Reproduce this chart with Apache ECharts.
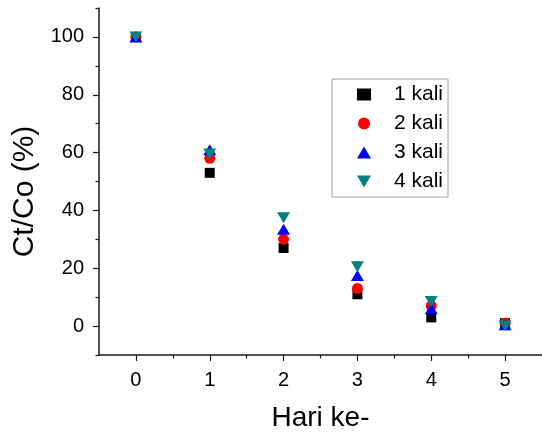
<!DOCTYPE html>
<html>
<head>
<meta charset="utf-8">
<script src="https://cdn.jsdelivr.net/npm/echarts@6/dist/echarts.min.js"></script>
<style>html,body{margin:0;padding:0;background:#fff}#c{width:542px;height:437px}</style>
</head>
<body>
<div id="c"></div>
<script>
const days = [0, 1, 2, 3, 4, 5];
const seriesNames = ['1 kali', '2 kali', '3 kali', '4 kali'];
const kali1 = [100, 53, 27, 11, 3, 1];
const kali2 = [100, 58, 30, 13, 7, 1];
const kali3 = [100, 61, 33.5, 17.5, 6, 0.5];
const kali4 = [100, 59.5, 37.5, 20.5, 8.5, 0];
const xTicks = [0, 1, 2, 3, 4, 5];
const xMinorTicks = [0.5, 1.5, 2.5, 3.5, 4.5];
const yTicks = [0, 20, 40, 60, 80, 100];
const yMinorTicks = [-10, 10, 30, 50, 70, 90, 110];

const font = '"Liberation Sans", Arial, sans-serif';
const axisColor = '#1a1a1a';
const downTri = 'path://M0,0L26,0L13,22Z';
function pairs(vals) { return days.map((d, i) => [d, vals[i]]); }

const chart = echarts.init(document.getElementById('c'), null, {renderer: 'canvas'});
chart.setOption({
  animation: false,
  backgroundColor: '#fff',
  grid: {left: 99, top: 8, right: -10, bottom: 69, containLabel: false},
  legend: {
    orient: 'vertical', left: 332, top: 79,
    data: [
      {name: seriesNames[0]},
      {name: seriesNames[1]},
      {name: seriesNames[2]},
      {name: seriesNames[3], icon: downTri}
    ],
    itemWidth: 14, itemHeight: 12, itemGap: 8,
    symbolKeepAspect: true,
    padding: [5, 5, 5, 25],
    borderColor: '#a0a0a0', borderWidth: 1, backgroundColor: '#fff',
    textStyle: {fontFamily: font, fontSize: 21, color: '#000', lineHeight: 20, padding: [0, 0, 0, 18]}
  },
  xAxis: [{
    type: 'value', min: -0.5, max: 5.5,
    name: 'Hari ke-', nameLocation: 'middle', nameGap: 49,
    nameTextStyle: {fontFamily: font, fontSize: 28, color: '#000'},
    axisLine: {onZero: false, lineStyle: {color: axisColor, width: 1.5}},
    axisTick: {show: true, inside: false, length: 6, customValues: xTicks, lineStyle: {color: axisColor, width: 1.2}},
    axisLabel: {customValues: xTicks, fontFamily: font, fontSize: 20, color: '#000', margin: 15},
    splitLine: {show: false}
  }, {
    type: 'value', min: -0.5, max: 5.5, position: 'bottom', gridIndex: 0,
    axisLine: {show: false, onZero: false},
    axisTick: {show: true, length: 3.5, customValues: xMinorTicks, lineStyle: {color: axisColor, width: 1.2}},
    axisLabel: {show: false}, splitLine: {show: false}
  }],
  yAxis: [{
    type: 'value', min: -10, max: 110,
    name: 'Ct/Co (%)', nameLocation: 'middle', nameGap: 53,
    nameTextStyle: {fontFamily: font, fontSize: 30, color: '#000', padding: [0, 20, 0, 0]},
    axisLine: {show: true, onZero: false, lineStyle: {color: axisColor, width: 1.5}},
    axisTick: {show: true, inside: false, length: 6, customValues: yTicks, lineStyle: {color: axisColor, width: 1.2}},
    axisLabel: {customValues: yTicks, fontFamily: font, fontSize: 20, color: '#000', margin: 15},
    splitLine: {show: false}
  }, {
    type: 'value', min: -10, max: 110, position: 'left',
    axisLine: {show: false, onZero: false},
    axisTick: {show: true, length: 3.5, customValues: yMinorTicks, lineStyle: {color: axisColor, width: 1.2}},
    axisLabel: {show: false}, splitLine: {show: false}
  }],
  series: [
    {name: seriesNames[0], type: 'scatter', data: pairs(kali1), symbol: 'rect', symbolSize: 10, itemStyle: {color: '#000000', opacity: 1}},
    {name: seriesNames[1], type: 'scatter', data: pairs(kali2), symbol: 'circle', symbolSize: 11, itemStyle: {color: '#ff0000', opacity: 1}},
    {name: seriesNames[2], type: 'scatter', data: pairs(kali3), symbol: 'triangle', symbolSize: [13, 11], itemStyle: {color: '#0000ff', opacity: 1}},
    {name: seriesNames[3], type: 'scatter', data: pairs(kali4), symbol: downTri, symbolKeepAspect: false, symbolSize: [13, 11], itemStyle: {color: '#008080', opacity: 1}}
  ]
});
</script>
</body>
</html>
